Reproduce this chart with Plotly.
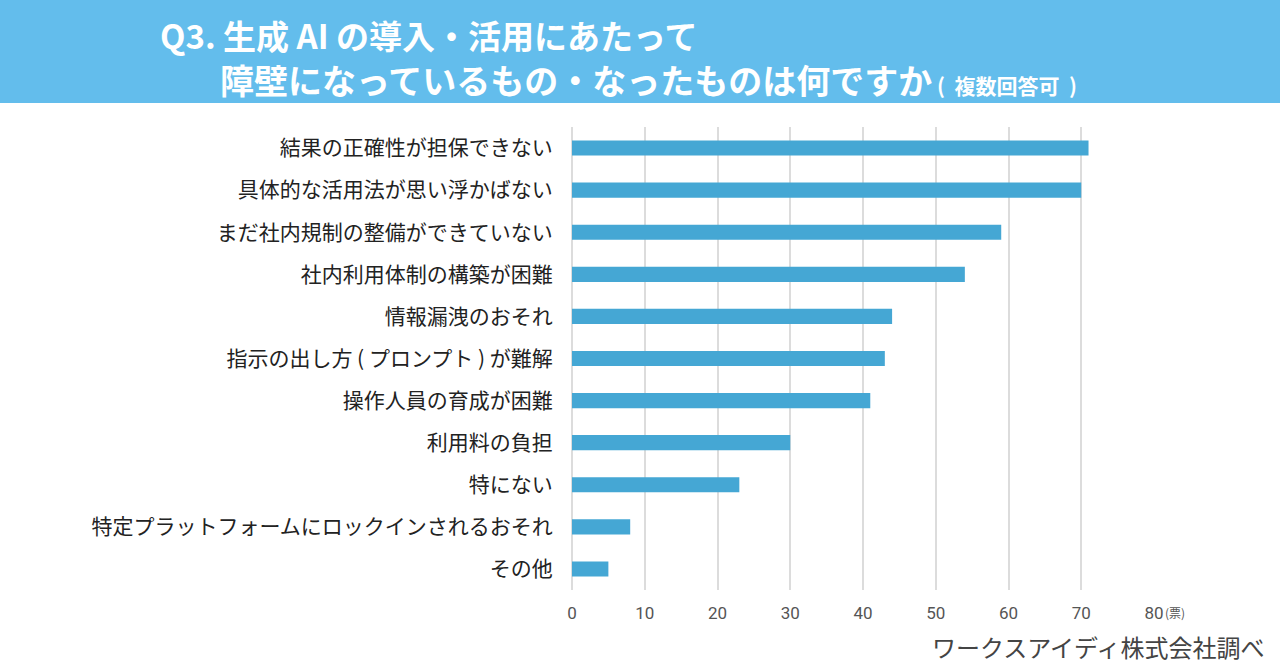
import plotly.graph_objects as go

categories = [
    "結果の正確性が担保できない",
    "具体的な活用法が思い浮かばない",
    "まだ社内規制の整備ができていない",
    "社内利用体制の構築が困難",
    "情報漏洩のおそれ",
    "指示の出し方 ( プロンプト ) が難解",
    "操作人員の育成が困難",
    "利用料の負担",
    "特にない",
    "特定プラットフォームにロックインされるおそれ",
    "その他",
]
values = [71, 70, 59, 54, 44, 43, 41, 30, 23, 8, 5]
tick_vals = [0, 10, 20, 30, 40, 50, 60, 70, 80]

W, H = 1280, 670
L, R, T, B = 572, 126, 127, 80
pw, ph = W - L - R, H - T - B

def px_x(p):
    return (p - L) / pw

def px_y(p):
    return (H - B - p) / ph

FONT = "Noto Sans CJK JP"

fig = go.Figure(go.Bar(
    x=values,
    y=categories,
    orientation="h",
    marker=dict(color="#45A7D4", line=dict(width=0)),
    width=0.36,
    hoverinfo="x+y",
))

fig.update_layout(
    width=W, height=H,
    margin=dict(l=L, r=R, t=T, b=B),
    paper_bgcolor="white",
    plot_bgcolor="white",
    showlegend=False,
    font=dict(family=FONT, color="#222"),
    xaxis=dict(
        range=[0, 80],
        tickvals=tick_vals,
        showgrid=True,
        gridcolor="#dcdcdc",
        gridwidth=2,
        zeroline=True,
        zerolinecolor="#dcdcdc",
        zerolinewidth=2,
        tickfont=dict(family="Roboto", size=17, color="#555"),
        ticks="outside",
        ticklen=8,
        tickcolor="rgba(0,0,0,0)",
        fixedrange=True,
    ),
    yaxis=dict(
        categoryorder="array",
        categoryarray=categories[::-1],
        tickfont=dict(family=FONT, size=21, color="#222"),
        ticks="outside",
        ticklen=14,
        tickcolor="rgba(0,0,0,0)",
        showgrid=False,
        fixedrange=True,
    ),
    shapes=[
        dict(type="rect", xref="paper", yref="paper",
             x0=px_x(-5), x1=px_x(W + 5), y0=px_y(103), y1=px_y(-5),
             fillcolor="#63BDEC", line=dict(width=0), layer="below"),
    ],
    annotations=[
        dict(xref="paper", yref="paper", x=px_x(158), y=px_y(35),
             xanchor="left", yanchor="middle", showarrow=False,
             text="<b>Q3. 生成 AI の導入・活用にあたって</b>",
             font=dict(family=FONT, size=33, color="white")),
        dict(xref="paper", yref="paper", x=px_x(218), y=px_y(80),
             xanchor="left", yanchor="middle", showarrow=False,
             text="<b>障壁になっているもの・なったものは何ですか<span style='font-size:21px'> (  複数回答可  )</span></b>",
             font=dict(family=FONT, size=34, color="white")),
        dict(xref="paper", yref="paper", x=px_x(1163), y=px_y(612),
             xanchor="left", yanchor="middle", showarrow=False,
             text="(票)", font=dict(family=FONT, size=12, color="#555")),
        dict(xref="paper", yref="paper", x=px_x(1266), y=px_y(646),
             xanchor="right", yanchor="middle", showarrow=False,
             text="ワークスアイディ株式会社調べ",
             font=dict(family=FONT, size=24, color="#444")),
    ],
)

fig.write_html("out.html", config={"displayModeBar": False},
               post_script="document.body.style.margin='0';document.body.style.padding='0';")
